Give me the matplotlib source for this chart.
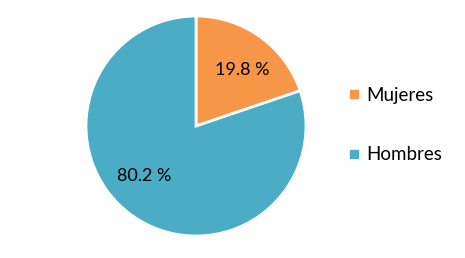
import matplotlib
matplotlib.use("Agg")
import matplotlib.pyplot as plt
from matplotlib.lines import Line2D

categories = ["Mujeres", "Hombres"]
values = [19.8, 80.2]
labels = ["19.8 %", "80.2 %"]
colors = ["#F79646", "#4BACC6"]

plt.rcParams['font.family'] = ['Lato', 'DejaVu Sans']
fig = plt.figure(figsize=(4.65, 2.58), dpi=100)
ax = fig.add_axes([0.185, 0.085, 0.473, 0.853])
wedges, _ = ax.pie(values, colors=colors, startangle=90, counterclock=False,
                   wedgeprops=dict(edgecolor="white", linewidth=2))
ax.set_xlim(-1, 1)
ax.set_ylim(-1, 1)
ax.set_aspect('equal')
ax.text(0.42, 0.51, labels[0], ha='center', va='center', fontsize=13, color='black')
ax.text(-0.47, -0.45, labels[1], ha='center', va='center', fontsize=13, color='black')

handles = [Line2D([0], [0], marker='s', color='none', markerfacecolor=c,
                  markeredgecolor=c, markersize=6) for c in colors]
fig.legend(handles, categories, loc='center left', bbox_to_anchor=(0.71, 0.515),
           frameon=False, fontsize=13.5, handlelength=0.7, handletextpad=0.35,
           labelspacing=2.25)
fig.savefig("out.png", dpi=100)
